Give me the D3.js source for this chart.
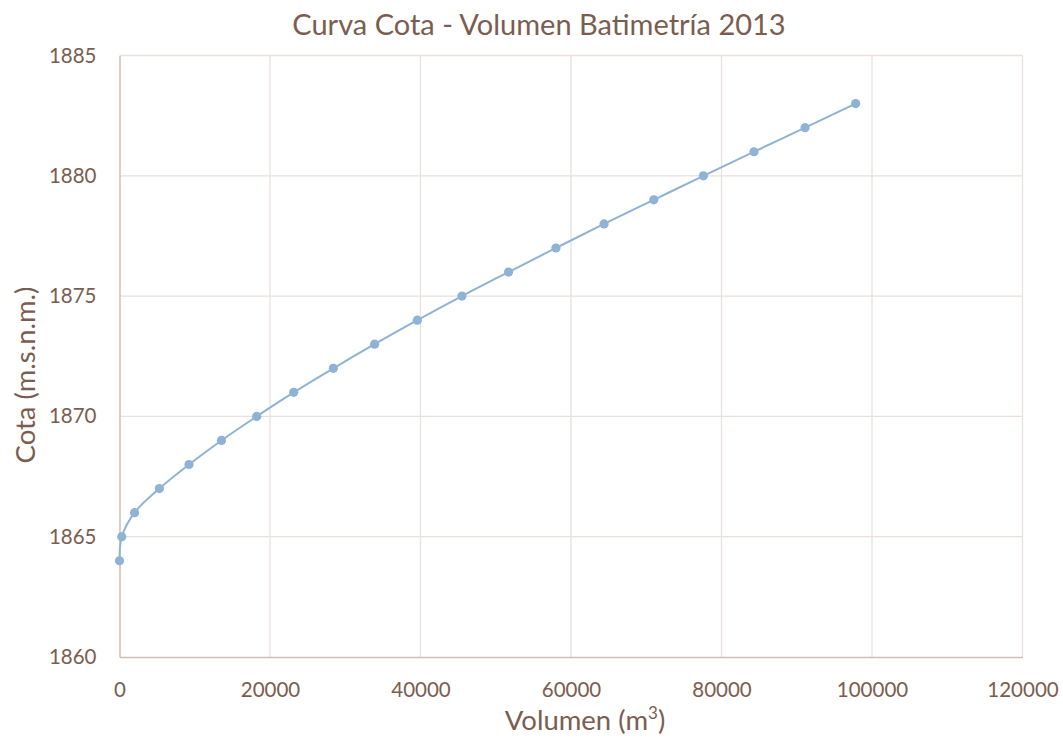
<!DOCTYPE html>
<html><head><meta charset="utf-8">
<script src="https://cdn.jsdelivr.net/npm/d3@7"></script>
<style>body{margin:0;background:#fff;} text{font-family:Lato, "Open Sans", sans-serif;}</style>
</head><body>
<svg id="c" width="1063" height="738"></svg>
<script>
const volumen = [0, 300, 2000, 5300, 9240, 13550, 18230, 23150, 28420, 33900, 39580, 45510, 51700, 58000, 64390, 71000, 77600, 84320, 91100, 97830];
const cota = [1864, 1865, 1866, 1867, 1868, 1869, 1870, 1871, 1872, 1873, 1874, 1875, 1876, 1877, 1878, 1879, 1880, 1881, 1882, 1883];
const xTicks = [0, 20000, 40000, 60000, 80000, 100000, 120000];
const yTicks = [1860, 1865, 1870, 1875, 1880, 1885];

const svg = d3.select("#c");
const L = 119.5, R = 1022.5, T = 55.5, B = 657;
const x = d3.scaleLinear().domain([0, 120000]).range([L, R]);
const y = d3.scaleLinear().domain([1860, 1885]).range([B, T]);
const textCol = "#7b5d50";

// gridlines
svg.append("g").selectAll("line.v").data(xTicks.slice(1)).join("line")
  .attr("x1", d => x(d)).attr("x2", d => x(d)).attr("y1", T).attr("y2", B)
  .attr("stroke", "#e8e1dd").attr("stroke-width", 1.3);
svg.append("g").selectAll("line.h").data(yTicks.slice(1)).join("line")
  .attr("x1", L).attr("x2", R).attr("y1", d => y(d)).attr("y2", d => y(d))
  .attr("stroke", "#e8e1dd").attr("stroke-width", 1.3);

// axes
const xAxis = svg.append("g").attr("transform", `translate(0,${B})`)
  .call(d3.axisBottom(x).tickValues(xTicks).tickSize(0).tickPadding(25).tickFormat(d3.format("d")));
const yAxis = svg.append("g").attr("transform", `translate(${L},0)`)
  .call(d3.axisLeft(y).tickValues(yTicks).tickSize(0).tickPadding(23).tickFormat(d3.format("d")));
[xAxis, yAxis].forEach(a => {
  a.select(".domain").attr("stroke", "#cbbfb8").attr("stroke-width", 1.5);
  a.selectAll("text").attr("fill", textCol).style("font-size", "20.5px").style("font-family", "Lato, sans-serif");
});

// line
const pts = volumen.map((v, i) => [v, cota[i]]);
svg.append("path").datum(pts)
  .attr("d", d3.line().x(d => x(d[0])).y(d => y(d[1])).curve(d3.curveCatmullRom.alpha(0.5)))
  .attr("fill", "none").attr("stroke", "#8fb3d5").attr("stroke-width", 2);
svg.append("g").selectAll("circle").data(pts).join("circle")
  .attr("cx", d => x(d[0])).attr("cy", d => y(d[1])).attr("r", 4.6)
  .attr("fill", "#8fb3d5");

// titles
svg.append("text").attr("x", 539).attr("y", 35).attr("text-anchor", "middle")
  .attr("fill", textCol).style("font-size", "29px").text("Curva Cota - Volumen Batimetría 2013");
const xt = svg.append("text").attr("x", 585).attr("y", 730).attr("text-anchor", "middle")
  .attr("fill", textCol).style("font-size", "27.5px");
xt.append("tspan").text("Volumen (m");
xt.append("tspan").attr("dy", -11).style("font-size", "17px").text("3");
xt.append("tspan").attr("dy", 11).text(")");
svg.append("text").attr("transform", "translate(35,375) rotate(-90)").attr("text-anchor", "middle")
  .attr("fill", textCol).style("font-size", "27.5px").text("Cota (m.s.n.m.)");
</script>
</body></html>
